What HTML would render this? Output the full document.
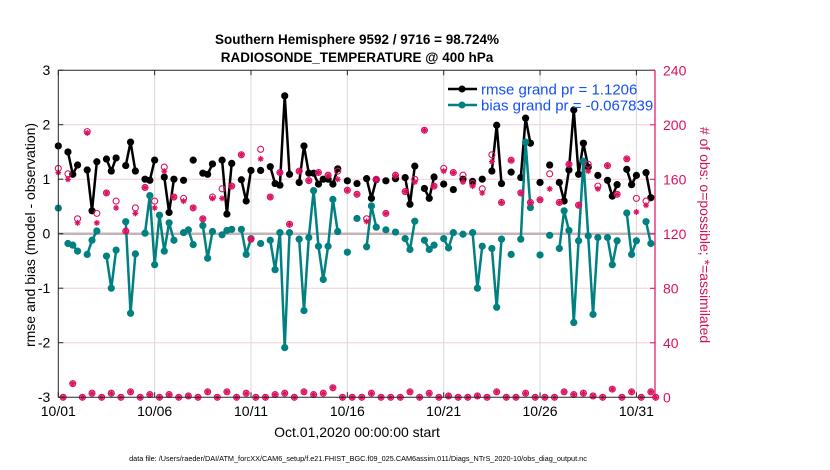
<!DOCTYPE html>
<html><head><meta charset="utf-8"><style>
html,body{margin:0;padding:0;background:#fff;width:830px;height:470px;overflow:hidden}
svg{display:block;font-family:"Liberation Sans",Arial,sans-serif}
</style></head><body>
<svg id="chart" width="830" height="470" viewBox="0 0 830 470" xmlns="http://www.w3.org/2000/svg">
<text x="357" y="44" text-anchor="middle" font-size="13.5" font-weight="bold">Southern Hemisphere 9592 / 9716 = 98.724%</text>
<text x="357" y="62" text-anchor="middle" font-size="13.5" font-weight="bold">RADIOSONDE_TEMPERATURE @ 400 hPa</text>
<g id="grid"></g>
<g id="series"></g>
<g id="axes"></g>
<text transform="translate(35,235) rotate(-90)" text-anchor="middle" font-size="14">rmse and bias (model - observation)</text>
<text transform="translate(700,235) rotate(90)" text-anchor="middle" font-size="14" fill="#d6105a"># of obs: o=possible; *=assimilated</text>
<text x="357" y="437" text-anchor="middle" font-size="14">Oct.01,2020 00:00:00 start</text>
<text x="358" y="461" text-anchor="middle" font-size="7.3">data file: /Users/raeder/DAI/ATM_forcXX/CAM6_setup/f.e21.FHIST_BGC.f09_025.CAM6assim.011/Diags_NTrS_2020-10/obs_diag_output.nc</text>
<g id="legend">
<line x1="448" y1="89" x2="477" y2="89" stroke="#000" stroke-width="2.5"/>
<circle cx="462" cy="89" r="3.5" fill="#000"/>
<text x="481" y="94.5" font-size="15" fill="#1450f5">rmse grand pr = 1.1206</text>
<line x1="448" y1="105" x2="477" y2="105" stroke="#008080" stroke-width="2.5"/>
<circle cx="462" cy="105" r="3.5" fill="#008080"/>
<text x="481" y="110.5" font-size="15" fill="#1450f5">bias grand pr = -0.067839</text>
</g>
</svg>
<script>
const N = null;
const tickDays = [0,5,10,15,20,25,30];
const tickLabels = ["10/01","10/06","10/11","10/16","10/21","10/26","10/31"];
const leftTicks = [-3,-2,-1,0,1,2,3];
const rightTicks = [0,40,80,120,160,200,240];
const rmse = [1.61,N,1.50,1.09,1.26,N,1.17,0.42,1.32,N,1.37,1.15,1.39,N,1.25,1.68,1.15,N,1.00,0.98,1.35,N,1.04,0.39,1.00,N,0.98,N,1.35,N,1.11,1.09,1.28,N,1.35,0.36,1.29,N,0.99,0.60,1.16,N,1.16,N,1.23,0.92,0.89,2.53,1.09,N,0.94,1.61,1.11,1.11,0.91,1.0,1.0,0.91,1.19,N,0.97,N,0.92,N,1.01,0.65,0.99,N,0.97,N,1.01,N,1.03,0.54,1.24,N,0.83,0.65,1.04,N,0.91,N,0.81,N,1.0,N,0.96,N,1.0,N,1.15,1.99,0.92,N,1.13,N,1.03,2.12,1.66,N,0.94,N,1.26,N,0.94,0.6,1.17,2.27,1.09,1.66,1.22,N,1.07,N,0.98,0.69,0.9,N,1.18,0.9,1.07,N,1.12,0.66,N];
const bias = [0.47,N,-0.18,-0.21,-0.32,N,-0.38,-0.12,0.05,N,-0.41,-1.0,-0.30,N,0.22,-1.46,-0.37,N,0.01,0.70,-0.57,0.34,-0.32,0.2,-0.12,N,0.02,0.07,-0.2,N,0.15,-0.45,0.04,N,-0.02,0.06,0.08,N,0.08,-0.38,-0.09,N,-0.18,N,-0.12,-0.66,0.02,-2.09,0.02,N,-0.1,-1.41,-0.07,0.79,-0.23,-0.84,-0.23,0.63,0.04,N,-0.34,N,0.28,N,-0.24,0.51,0.12,N,0.07,N,0.03,N,-0.09,-0.29,0.23,N,-0.12,-0.29,-0.21,N,-0.09,-0.26,0.02,N,-0.01,N,0.02,-1.0,-0.23,N,-0.27,-1.35,-0.1,N,-0.38,N,-0.1,1.68,0.48,N,-0.39,N,-0.03,N,-0.27,0.42,0.06,-1.63,-0.13,1.33,-0.04,-1.48,-0.07,N,-0.07,-0.57,-0.13,N,0.38,-0.38,-0.13,N,0.22,-0.18,N];
const nPossible = [168,0,164,10,131,0,195,3,135,0,150,3,144,0,122,4,139,0,154,2,144,0,169,2,147,0,146,1,139,0,131,4,147,0,153,4,155,0,178,3,116,0,182,0,147,2,165,3,127,0,166,4,159,2,165,3,163,7,166,0,152,0,149,0,131,3,160,0,135,0,163,0,151,4,160,0,196,3,155,0,168,1,165,0,163,0,157,1,153,0,178,4,143,0,174,0,150,3,143,0,145,0,164,0,143,4,171,2,141,3,171,1,155,0,170,6,149,0,175,4,146,0,144,4,0];
const nUsed = [165,0,160,10,128,0,194,3,128,0,150,3,139,0,122,4,135,0,154,2,139,0,166,2,147,0,144,1,139,0,131,4,146,0,146,4,155,0,178,3,116,0,175,0,147,2,165,3,127,0,166,4,159,2,165,3,163,7,160,0,152,0,149,0,129,3,160,0,135,0,163,0,151,4,158,0,196,3,155,0,166,1,165,0,158,0,155,1,150,0,173,4,143,0,174,0,150,3,143,0,145,0,153,0,143,4,171,2,141,3,166,1,153,0,170,6,149,0,175,4,136,0,141,4,0];

const L=58.3, R=655, T=70.3, B=397.3;
const xOfDay = d => L + d*19.27;
const xOfIdx = k => xOfDay(k*0.25);
const yL = v => 233.7 - v*54.5;
const yR = c => B - c*(B-T)/240;
const NS='http://www.w3.org/2000/svg';
function mk(tag, attrs, parent){const e=document.createElementNS(NS,tag);for(const a in attrs)e.setAttribute(a,attrs[a]);parent.appendChild(e);return e;}
const grid=document.getElementById('grid'), series=document.getElementById('series'), axes=document.getElementById('axes');

leftTicks.forEach(v=>{ if(v!==0 && v!==-3 && v!==3){ const g=mk('line',{x1:L,x2:R,y1:yL(v),y2:yL(v),stroke:'#f5cdd9','stroke-width':1},grid);

 }});
tickDays.forEach(d=>{ if(d>0){ const g=mk('line',{x1:xOfDay(d),x2:xOfDay(d),y1:T,y2:B,stroke:'#d8d8d8','stroke-width':1},grid);

 }});
const zl=mk('line',{x1:L,x2:R,y1:yL(0),y2:yL(0),stroke:'#c4b4b8','stroke-width':2.5},grid);



function drawSeries(vals,color,name){
  let seg=[];
  const flush=()=>{ if(seg.length>1){ const p=mk('polyline',{points:seg.join(' '),fill:'none',stroke:color,'stroke-width':2.5,'stroke-linejoin':'round'},series);
    
     } seg=[]; };
  vals.forEach((v,k)=>{ if(v===null){flush();} else seg.push(xOfIdx(k)+','+yL(v)); });
  flush();
  vals.forEach((v,k)=>{ if(v!==null){ const c=mk('circle',{cx:xOfIdx(k),cy:yL(v),r:3.6,fill:color},series);
    
     }});
}
drawSeries(rmse,'#000','rmse');
drawSeries(bias,'#008080','bias');

const pink='#dc1060';
nPossible.forEach((c,k)=>{ const o=mk('circle',{cx:xOfIdx(k),cy:yR(c),r:3,fill:'none',stroke:pink,'stroke-width':1.1},series);
  
   });
nUsed.forEach((c,k)=>{ const x=xOfIdx(k), y=yR(c), s=3;
  const g=mk('path',{d:`M${x-s} ${y}H${x+s}M${x} ${y-s}V${y+s}M${x-s*0.7} ${y-s*0.7}L${x+s*0.7} ${y+s*0.7}M${x-s*0.7} ${y+s*0.7}L${x+s*0.7} ${y-s*0.7}`,stroke:pink,'stroke-width':1.2,fill:'none'},series);
  
   });

const fr=mk('path',{d:`M${L} ${T}V${B}H${R}M${L} ${T}H${R}`,stroke:'#262626','stroke-width':1,fill:'none'},axes);


const ra=mk('line',{x1:R,x2:R,y1:T,y2:B,stroke:pink,'stroke-width':1.2},axes);


leftTicks.forEach(v=>{ const y=yL(v);
  mk('line',{x1:L,x2:L+5,y1:y,y2:y,stroke:'#262626'},axes);
  const t=mk('text',{x:L-8,y:y+5,'text-anchor':'end','font-size':14},axes); t.textContent=String(v);
  
   });
rightTicks.forEach(c=>{ const y=yR(c);
  mk('line',{x1:R-5,x2:R,y1:y,y2:y,stroke:pink},axes);
  const t=mk('text',{x:R+8,y:y+5,'font-size':14,fill:pink},axes); t.textContent=String(c);
  
   });
tickDays.forEach((d,i)=>{ const x=xOfDay(d);
  mk('line',{x1:x,x2:x,y1:B,y2:B-5,stroke:'#262626'},axes);
  mk('line',{x1:x,x2:x,y1:T,y2:T+5,stroke:'#262626'},axes);
  const t=mk('text',{x:x,y:416,'text-anchor':'middle','font-size':14},axes); t.textContent=tickLabels[i];
  
   });
</script>
</body></html>
